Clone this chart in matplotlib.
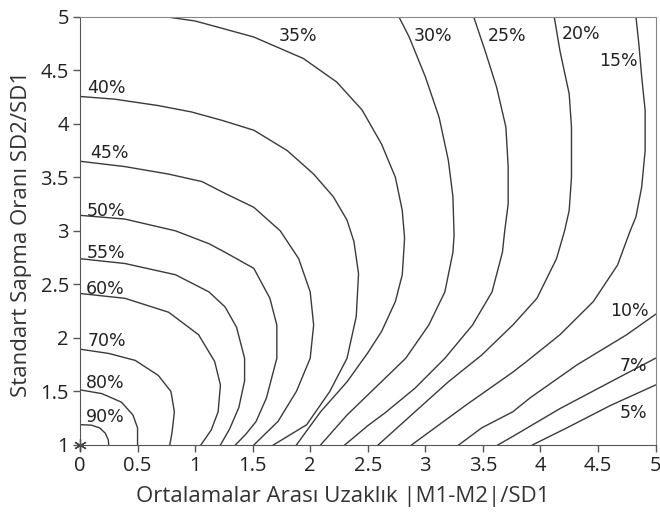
#
# Overlap of two normal distributions: contour lines
#
import matplotlib
matplotlib.use("Agg")
import matplotlib.pyplot as plt

# Contour lines, one x list and one y list for each level (x = |M1-M2|/SD1, y = SD2/SD1)
##########################################################################################
c90_x = [0, 0.10, 0.17, 0.22, 0.245, 0.25]
c90_y = [1.19, 1.185, 1.16, 1.11, 1.05, 1.0]

c80_x = [0, 0.19, 0.36, 0.46, 0.50, 0.50]
c80_y = [1.515, 1.48, 1.40, 1.28, 1.16, 1.0]

c70_x = [0, 0.25, 0.48, 0.68, 0.79, 0.82, 0.80, 0.78]
c70_y = [1.895, 1.855, 1.79, 1.65, 1.50, 1.31, 1.12, 1.0]

c60_x = [0, 0.39, 0.77, 1.03, 1.17, 1.22, 1.20, 1.14, 1.05]
c60_y = [2.415, 2.37, 2.24, 2.03, 1.78, 1.56, 1.31, 1.14, 1.0]

c55_x = [0, 0.39, 0.83, 1.12, 1.26, 1.36, 1.43, 1.43, 1.38, 1.30, 1.22]
c55_y = [2.74, 2.695, 2.59, 2.43, 2.29, 2.10, 1.81, 1.60, 1.35, 1.15, 1.0]

c50_x = [0, 0.39, 0.83, 1.12, 1.26, 1.51, 1.65, 1.71, 1.71, 1.62, 1.53, 1.44, 1.35]
c50_y = [3.145, 3.11, 3.0, 2.88, 2.80, 2.65, 2.37, 2.12, 1.81, 1.44, 1.22, 1.10, 1.0]

c45_x = [0, 0.39, 0.77, 1.06, 1.26, 1.51, 1.74, 1.90, 2.0, 2.03, 2.0, 1.88, 1.72, 1.51]
c45_y = [3.65, 3.60, 3.53, 3.46, 3.35, 3.22, 3.0, 2.74, 2.43, 2.12, 1.81, 1.50, 1.22, 1.0]

c40_x = [0, 0.30, 0.68, 0.97, 1.24, 1.51, 1.80, 2.03, 2.20, 2.32, 2.38, 2.42,
         2.40, 2.32, 2.17, 1.97, 1.68]
c40_y = [4.255, 4.23, 4.17, 4.11, 4.03, 3.94, 3.75, 3.53, 3.32, 3.10, 2.90, 2.60,
         2.20, 1.81, 1.50, 1.19, 1.0]

c35_x = [0.74, 1.0, 1.24, 1.51, 1.94, 2.23, 2.45, 2.62, 2.74, 2.80, 2.82, 2.80,
         2.74, 2.62, 2.50, 2.32, 2.09, 1.88]
c35_y = [5.0, 4.96, 4.89, 4.81, 4.61, 4.39, 4.13, 3.81, 3.50, 3.19, 2.93, 2.59,
         2.34, 2.06, 1.86, 1.59, 1.31, 1.0]

c30_x = [2.77, 2.86, 3.0, 3.12, 3.20, 3.24, 3.25, 3.24, 3.17, 3.03, 2.83, 2.57, 2.32, 2.09]
c30_y = [5.0, 4.81, 4.44, 4.06, 3.66, 3.32, 2.96, 2.80, 2.43, 2.12, 1.81, 1.54, 1.28, 1.0]

c25_x = [3.42, 3.52, 3.62, 3.70, 3.72, 3.72, 3.69, 3.67, 3.58, 3.41, 3.17, 2.91,
         2.65, 2.50, 2.30]
c25_y = [5.0, 4.68, 4.34, 3.97, 3.60, 3.25, 3.0, 2.80, 2.43, 2.12, 1.81, 1.53,
         1.30, 1.18, 1.0]

c20_x = [4.12, 4.17, 4.25, 4.27, 4.27, 4.25, 4.21, 4.14, 3.97, 3.76, 3.49, 3.20, 2.91, 2.59]
c20_y = [5.0, 4.68, 4.28, 3.97, 3.50, 3.19, 3.0, 2.74, 2.37, 2.12, 1.84, 1.59, 1.31, 1.0]

c15_x = [4.83, 4.855, 4.88, 4.91, 4.91, 4.88, 4.83, 4.78, 4.67, 4.46, 4.17, 3.88,
         3.76, 3.35, 2.88]
c15_y = [5.0, 4.75, 4.44, 4.125, 3.75, 3.41, 3.13, 3.0, 2.68, 2.34, 2.03, 1.78,
         1.68, 1.37, 1.0]

c10_x = [5.0, 4.75, 4.32, 3.91, 3.76, 3.49, 3.29]
c10_y = [2.22, 2.03, 1.75, 1.44, 1.31, 1.16, 1.0]

c7_x = [5.0, 4.61, 4.17, 3.76, 3.63]
c7_y = [1.81, 1.59, 1.34, 1.08, 1.0]

c5_x = [5.0, 4.61, 4.23, 3.93]
c5_y = [1.56, 1.37, 1.16, 1.0]

# label text and where it sits on the chart
labels = ["90%", "80%", "70%", "60%", "55%", "50%", "45%", "40%",
          "35%", "30%", "25%", "20%", "15%", "10%", "7%", "5%"]
label_x = [0.22, 0.22, 0.23, 0.22, 0.23, 0.23, 0.26, 0.23,
           1.89, 3.07, 3.71, 4.35, 4.68, 4.77, 4.81, 4.81]
label_y = [1.26, 1.58, 1.97, 2.46, 2.79, 3.19, 3.73, 4.33,
           4.82, 4.82, 4.82, 4.84, 4.59, 2.25, 1.74, 1.30]

curves = [(c90_x, c90_y), (c80_x, c80_y), (c70_x, c70_y), (c60_x, c60_y),
          (c55_x, c55_y), (c50_x, c50_y), (c45_x, c45_y), (c40_x, c40_y),
          (c35_x, c35_y), (c30_x, c30_y), (c25_x, c25_y), (c20_x, c20_y),
          (c15_x, c15_y), (c10_x, c10_y), (c7_x, c7_y), (c5_x, c5_y)]

# Drawing
##########################################################################################
plt.rcParams['font.family'] = ['Open Sans', 'DejaVu Sans']

fig = plt.figure(figsize=(6.6, 5.12), dpi=100)
ax = fig.add_axes([80 / 660, 1 - 445 / 512, 575.5 / 660, (445 - 16.7) / 512])

for cx, cy in curves:
    ax.plot(cx, cy, color="#3a3a3a", lw=1.0, solid_joinstyle="round")

for txt, tx, ty in zip(labels, label_x, label_y):
    ax.text(tx, ty, txt, ha="center", va="center", fontsize=12.5,
            family="DejaVu Sans", color="#222222")

# the little asterisk in the corner
ax.plot([0], [1], marker=(6, 2, 0), color="#444444", ms=9, mew=0.9, clip_on=False)

ax.set_xlim(0, 5)
ax.set_ylim(1, 5)
ax.set_xticks([0, 0.5, 1, 1.5, 2, 2.5, 3, 3.5, 4, 4.5, 5])
ax.set_xticklabels(["0", "0.5", "1", "1.5", "2", "2.5", "3", "3.5", "4", "4.5", "5"])
ax.set_yticks([1, 1.5, 2, 2.5, 3, 3.5, 4, 4.5, 5])
ax.set_yticklabels(["1", "1.5", "2", "2.5", "3", "3.5", "4", "4.5", "5"])
ax.tick_params(direction="out", length=5, width=1, color="#555555",
               labelsize=14.5, labelcolor="#222222", pad=3)

ax.spines["left"].set_color("#555555")
ax.spines["bottom"].set_color("#555555")
ax.spines["top"].set_color("#888888")
ax.spines["right"].set_color("#888888")

ax.set_xlabel("Ortalamalar Arası Uzaklık |M1-M2|/SD1", fontsize=16, color="#333333")
ax.xaxis.set_label_coords(0.456, -0.095)
ax.set_ylabel("Standart Sapma Oranı SD2/SD1", fontsize=16, color="#333333")
ax.yaxis.set_label_coords(-0.083, 0.493)

plt.savefig("out.png", dpi=100)
